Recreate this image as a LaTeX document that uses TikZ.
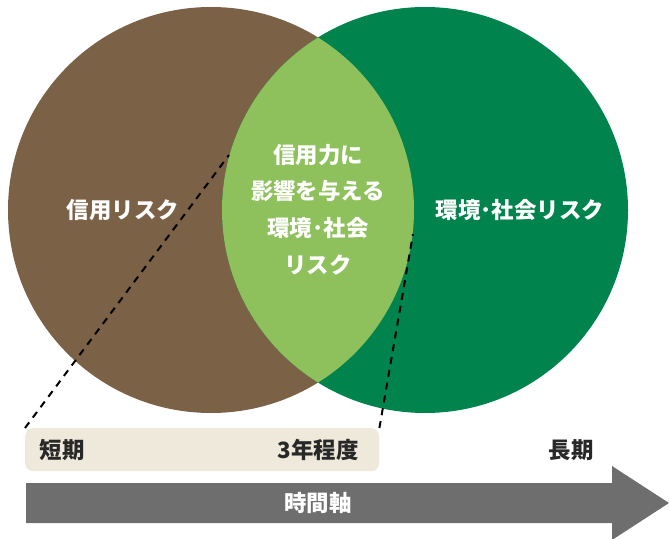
\documentclass[tikz,border=0pt]{standalone}
\usepackage{fontspec}
\newfontfamily\jp{Noto Sans CJK JP}
\usetikzlibrary{positioning}
\definecolor{brownc}{RGB}{123,97,70}
\definecolor{darkg}{RGB}{0,131,76}
\definecolor{lightg}{RGB}{142,193,92}
\definecolor{beige}{RGB}{238,233,218}
\definecolor{axisgray}{RGB}{110,110,110}
\definecolor{txt}{RGB}{40,40,40}
\tikzset{
  wlabel/.style={text=white, font=\jp\bfseries\fontsize{22.5}{28}\selectfont, align=center, inner sep=0pt},
  dlabel/.style={text=txt, font=\jp\bfseries\fontsize{22.5}{28}\selectfont, inner sep=0pt},
  guide/.style={black, line width=2bp, dash pattern=on 7bp off 6bp}
}
\begin{document}
\begin{tikzpicture}[x=1bp,y=-1bp]
\useasboundingbox (0,0) rectangle (669,539);
% circles
\fill[brownc] (211,210) circle (203bp);
\fill[darkg] (425,210) circle (203bp);
\begin{scope}
  \clip (211,210) circle (203bp);
  \fill[lightg] (425,210) circle (203bp);
\end{scope}
% labels
\node[wlabel] (credit) at (123,210) {信用リスク};
\node[wlabel] (env) at (520,210) {環境･社会リスク};
\node[wlabel] (l1) at (318,155) {信用力に};
\node[wlabel] (l2) at (318,191) {影響を与える};
\node[wlabel] (l3) at (318,228) {環境･社会};
\node[wlabel] (l4) at (318,265) {リスク};
% beige box
\node[fill=beige, rounded corners=8bp, minimum width=354bp, minimum height=43bp, inner sep=0pt, anchor=north west] (box) at (25,428) {};
\node[dlabel] (short) at (62,450) {短期};
\node[dlabel] (three) at (318,450) {3年程度};
\node[dlabel] (long) at (571,450) {長期};
% dashed guides
\coordinate (pl) at (229,155);
\coordinate (pr) at (413,234);
\draw[guide] (box.north west) -- (pl);
\draw[guide] (box.north east) -- (pr);
% time axis arrow
\fill[axisgray] (26,483) -- (612,483) -- (612,466) -- (669,503) -- (612,540) -- (612,523) -- (26,523) -- cycle;
\node[wlabel] (axis) at (318,503) {時間軸};
\end{tikzpicture}
\end{document}
